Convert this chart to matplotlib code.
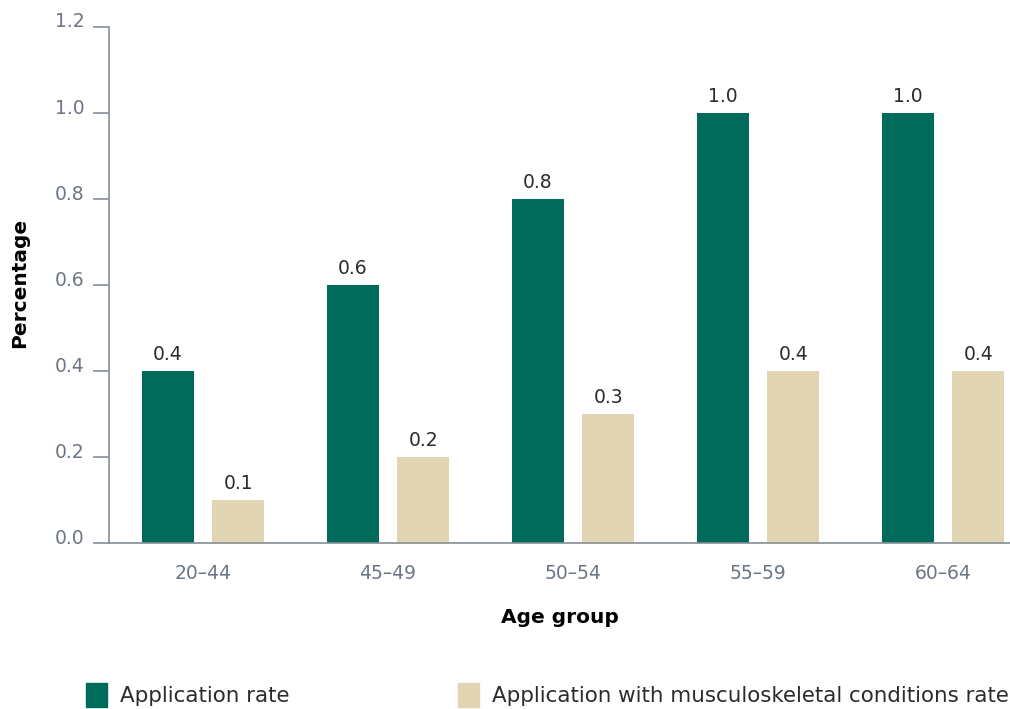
import matplotlib
matplotlib.use("Agg")
import matplotlib.pyplot as plt
from matplotlib.patches import Patch
from matplotlib.transforms import ScaledTranslation
import numpy

ageGroups = ["20\u201344", "45\u201349", "50\u201354", "55\u201359", "60\u201364"]
applicationRate = [0.4, 0.6, 0.8, 1.0, 1.0]
muscoRate = [0.1, 0.2, 0.3, 0.4, 0.4]
seriesNames = ["Application rate", "Application with musculoskeletal conditions rate"]

green = "#006b5a"
beige = "#e1d5b4"
axisGrey = "#868d96"
tickGrey = "#6b7785"

plt.rcParams['font.family'] = ['DejaVu Sans']

fig = plt.figure(figsize=(10.1, 7.09), dpi=100)
ax = fig.add_axes([0.108, 0.234, 0.892, 0.728])

x = numpy.arange(len(ageGroups))
barsA = ax.bar(x - 0.19, applicationRate, width=0.28, color=green)
barsB = ax.bar(x + 0.19, muscoRate, width=0.28, color=beige)

for bars, vals in [(barsA, applicationRate), (barsB, muscoRate)]:
    for b, v in zip(bars, vals):
        ax.annotate("%.1f" % v, (b.get_x() + b.get_width() / 2, v),
                    xytext=(0, 5), textcoords="offset points",
                    ha="center", va="bottom", fontsize=13.5, color="#2b2b2b")

ax.set_xlim(-0.508, 4.362)
ax.set_ylim(0, 1.2)
ax.set_yticks(numpy.arange(0, 1.21, 0.2))
ax.set_yticklabels(["%.1f" % t for t in numpy.arange(0, 1.21, 0.2)])
ax.set_xticks(x)
ax.set_xticklabels(ageGroups)

for s in ["top", "right"]:
    ax.spines[s].set_visible(False)
for s in ["left", "bottom"]:
    ax.spines[s].set_color(axisGrey)
    ax.spines[s].set_linewidth(1.2)

ax.tick_params(axis="y", length=11.5, width=1.2, color=axisGrey, labelcolor=tickGrey,
               labelsize=13.5, pad=6)
ax.tick_params(axis="x", length=0, labelcolor=tickGrey, labelsize=13.5, pad=15)

# labels sit a little above their ticks in the original
shiftUp = ScaledTranslation(0, 5 / 72, fig.dpi_scale_trans)
for lab in ax.get_yticklabels():
    lab.set_transform(lab.get_transform() + shiftUp)

ax.set_xlabel("Age group", fontsize=14.5, fontweight="bold", labelpad=18)
ax.set_ylabel("Percentage", fontsize=14.5, fontweight="bold")
ax.yaxis.set_label_coords(-0.089, 0.504)

handles = [Patch(color=green), Patch(color=beige)]
fig.legend(handles, seriesNames, loc="lower left", bbox_to_anchor=(0.066, -0.024),
           ncol=2, frameon=False, fontsize=15.4, handlelength=1.0, handleheight=1.3,
           columnspacing=7.85, handletextpad=0.6, labelcolor="#2b2b2b")

fig.savefig("out.png", dpi=100)
